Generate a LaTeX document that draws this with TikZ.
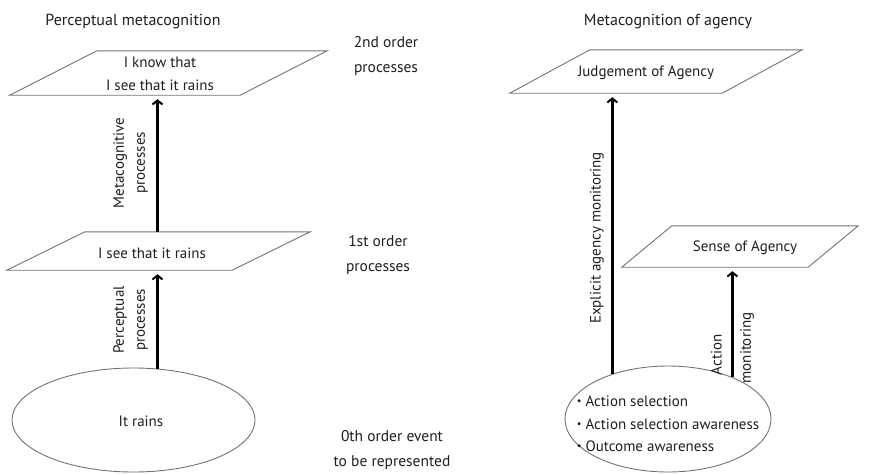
\documentclass[tikz,border=0pt]{standalone}
\usepackage{fontspec}
\usepackage{graphicx}
\setmainfont{PT Sans}
\usetikzlibrary{arrows.meta,shapes.geometric}

% slanted box drawn around an invisible rectangular node
\newcommand\slantbox[2]{%
  \draw[outline] ([xshift=-#2]#1.south west) -- ([xshift=-#2]#1.south east)
    -- ([xshift=#2]#1.north east) -- ([xshift=#2]#1.north west) -- cycle;}
% small list bullet
\newcommand\smallbul{\raisebox{0.25ex}{\scalebox{0.7}{\textbullet}}\ }

\begin{document}
\begin{tikzpicture}[x=1pt,y=-1pt,
  every node/.style={font=\fontsize{15}{22.5}\selectfont, text=black!88},
  title/.style={font=\fontsize{16}{24}\selectfont},
  level/.style={font=\fontsize{15.5}{24.5}\selectfont, align=center},
  boxbody/.style={inner sep=0pt},
  txt/.style={inner sep=0pt, align=center},
  outline/.style={draw=black!55, line width=0.9pt},
  blob/.style={ellipse, outline, inner sep=0pt},
  conn/.style={line width=2.5pt, draw=black,
    -{Straight Barb[length=4pt,width=10pt,line width=2pt]}, shorten >=4pt},
  rlabel/.style={rotate=90, align=center, inner sep=3pt,
    font=\fontsize{15}{21}\selectfont},
]
\useasboundingbox (0,0) rectangle (873,474);

% column titles
\node[title] (tl) at (133,22) {Perceptual metacognition};
\node[title] (tr) at (668,22) {Metacognition of agency};

% order levels
\node[level] (lv2) at (386,56) {2nd order\\processes};
\node[level] (lv1) at (378,255) {1st order\\processes};
\node[level] (lv0) at (392,450) {0th order event\\to be represented};

% perceptual metacognition column
\node[boxbody, minimum width=230, minimum height=44] (know) at (168.5,73) {};
\slantbox{know}{43.5}
\node[txt] (knowtxt) at (160,74) {I know that\\I see that it rains};
\node[boxbody, minimum width=225, minimum height=38] (see) at (158.5,251) {};
\slantbox{see}{39}
\node[txt] (seetxt) at (152,253) {I see that it rains};
\node[blob, minimum width=243, minimum height=104] (rain) at (133.5,420) {};
\node[txt] (raintxt) at (141,421) {It rains};

\draw[conn] (rain.65) -- (rain.65 |- see.south);
\draw[conn] (rain.65 |- see.north) -- (rain.65 |- know.south);

\node[rlabel, anchor=south] (perc) at (151,320) {Perceptual\\processes};
\node[rlabel, anchor=south] (meta) at (151,163) {Metacognitive\\processes};

% metacognition of agency column
\node[boxbody, minimum width=212, minimum height=43] (judge) at (656,71.5) {};
\slantbox{judge}{40}
\node[txt] (judgetxt) at (646,73) {Judgement of Agency};
\node[boxbody, minimum width=186, minimum height=41] (sense) at (740,246.5) {};
\slantbox{sense}{25}
\node[txt] (sensetxt) at (745,248) {Sense of Agency};
\node[blob, minimum width=206, minimum height=106] (act) at (668,419) {};
\node[inner sep=0pt, align=left] (acttxt) at (668,424)
  {\smallbul Action selection\\
   \smallbul Action selection awareness\\
   \smallbul Outcome awareness};

\draw[conn] (act.141) -- (act.141 |- judge.south);
\draw[conn] (act.33) -- (act.33 |- sense.south);

\node[rlabel, anchor=south] (expl) at (607,238) {Explicit agency monitoring};
\node[rlabel, anchor=south] (actl) at (725,355) {Action};
\node[rlabel, anchor=north] (monl) at (737,348) {monitoring};
\end{tikzpicture}
\end{document}
